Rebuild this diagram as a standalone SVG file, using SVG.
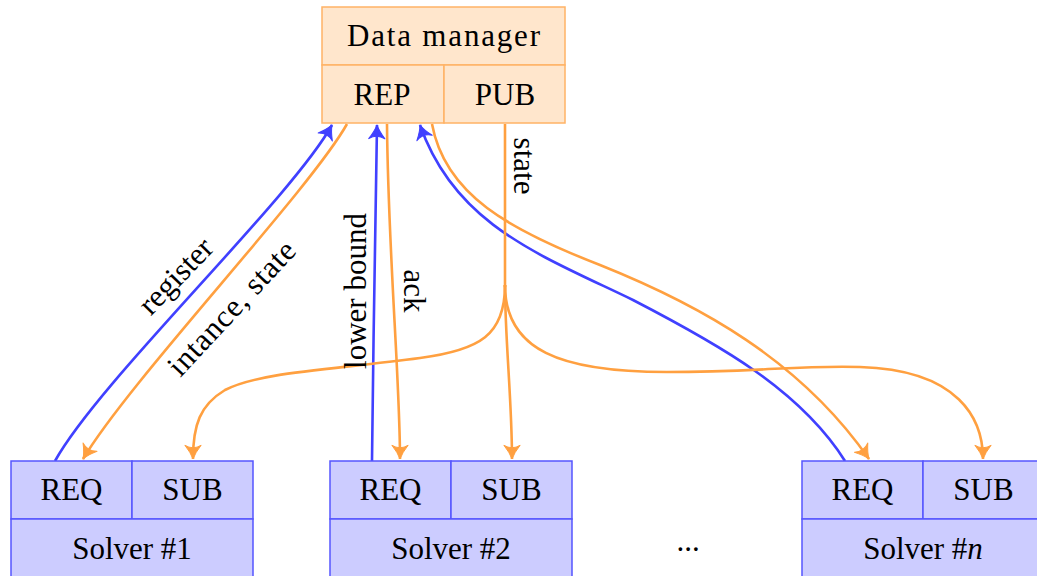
<svg xmlns="http://www.w3.org/2000/svg" width="1037" height="576" viewBox="0 0 1037 576">
<style>
  .obox { fill: #FFE6CC; stroke: #FFB366; stroke-width: 1.5; }
  .bbox { fill: #CCCCFF; stroke: #5555FF; stroke-width: 1.5; }
  .t { font-family: "Liberation Serif", "DejaVu Serif", serif; font-size: 31px; fill: #000; text-anchor: middle; }
  .ob { fill: none; stroke: #FFA040; stroke-width: 2.6; }
  .bl { fill: none; stroke: #4040FF; stroke-width: 2.6; }
</style>
<defs>
  <marker id="ao" markerUnits="userSpaceOnUse" markerWidth="20" markerHeight="20" viewBox="-12 -8 14 16" refX="0" refY="0" orient="auto" overflow="visible">
    <path d="M0,0 Q-5,-1.8 -11,-6.5 Q-7,0 -11,6.5 Q-5,1.8 0,0 Z" fill="#FFA040" stroke="#FFA040" stroke-width="0.8" stroke-linejoin="round"/>
  </marker>
  <marker id="ab" markerUnits="userSpaceOnUse" markerWidth="20" markerHeight="20" viewBox="-12 -8 14 16" refX="0" refY="0" orient="auto" overflow="visible">
    <path d="M0,0 Q-5,-1.8 -11,-6.5 Q-7,0 -11,6.5 Q-5,1.8 0,0 Z" fill="#4040FF" stroke="#4040FF" stroke-width="0.8" stroke-linejoin="round"/>
  </marker>
</defs>
<rect width="1037" height="576" fill="#fff"/>

<g id="connectors">
  <path class="bl" d="M55,461 C100,380 290,200 332,125" marker-end="url(#ab)"/>
  <path class="ob" d="M347,124 C310,190 130,380 83,459" marker-end="url(#ao)"/>
  <path class="bl" d="M372,461 C373,350 376,200 377,125" marker-end="url(#ab)"/>
  <path class="ob" d="M387,124 C388,250 400,380 400,459" marker-end="url(#ao)"/>
  <path class="bl" d="M845,461 C800,390 720,345 633,300 C540,255 455,225 420,125" marker-end="url(#ab)"/>
  <path class="ob" d="M432,124 C445,195 510,230 600,265 C700,305 800,360 869,459" marker-end="url(#ao)"/>
  <path class="ob" d="M505,124 L505,287"/>
  <path class="ob" d="M505,285 C505,335 480,350 420,358 C330,370 260,372 225,390 C200,405 193,425 193,459" marker-end="url(#ao)"/>
  <path class="ob" d="M505,285 C505,340 512,400 512,459" marker-end="url(#ao)"/>
  <path class="ob" d="M505,285 C505,350 560,372 667,372 C760,372 800,365 860,367 C960,370 983,420 983,459" marker-end="url(#ao)"/>
  <text class="t" transform="translate(183,283) rotate(-46)">register</text>
  <text class="t" transform="translate(239,315) rotate(-47)" textLength="172" lengthAdjust="spacing">intance, state</text>
  <text class="t" transform="translate(366,291) rotate(-90)">lower bound</text>
  <text class="t" transform="translate(404,291) rotate(90)">ack</text>
  <text class="t" transform="translate(514,166) rotate(90)">state</text>
</g>

<g id="data-manager">
  <rect class="obox" x="322" y="7" width="243" height="58"/>
  <text class="t" x="443.5" y="46" textLength="193" lengthAdjust="spacing">Data manager</text>
  <rect class="obox" x="322" y="65" width="122" height="58"/>
  <text class="t" x="382" y="105">REP</text>
  <rect class="obox" x="444" y="65" width="121" height="58"/>
  <text class="t" x="505" y="105">PUB</text>
</g>

<g id="solver-1">
  <rect class="bbox" x="11" y="461" width="121" height="58"/>
  <text class="t" x="71.5" y="500">REQ</text>
  <rect class="bbox" x="132" y="461" width="121" height="58"/>
  <text class="t" x="192.5" y="500">SUB</text>
  <rect class="bbox" x="11" y="519" width="242" height="60"/>
  <text class="t" x="132" y="559">Solver #1</text>
</g>

<g id="solver-2">
  <rect class="bbox" x="330" y="461" width="121" height="58"/>
  <text class="t" x="390.5" y="500">REQ</text>
  <rect class="bbox" x="451" y="461" width="121" height="58"/>
  <text class="t" x="511.5" y="500">SUB</text>
  <rect class="bbox" x="330" y="519" width="242" height="60"/>
  <text class="t" x="451" y="559">Solver #2</text>
</g>

<g id="ellipsis">
  <text class="t" x="688" y="551">...</text>
</g>

<g id="solver-n">
  <rect class="bbox" x="802" y="461" width="121" height="58"/>
  <text class="t" x="862.5" y="500">REQ</text>
  <rect class="bbox" x="923" y="461" width="121" height="58"/>
  <text class="t" x="983.5" y="500">SUB</text>
  <rect class="bbox" x="802" y="519" width="242" height="60"/>
  <text class="t" x="923" y="559">Solver #<tspan font-style="italic">n</tspan></text>
</g>
</svg>
